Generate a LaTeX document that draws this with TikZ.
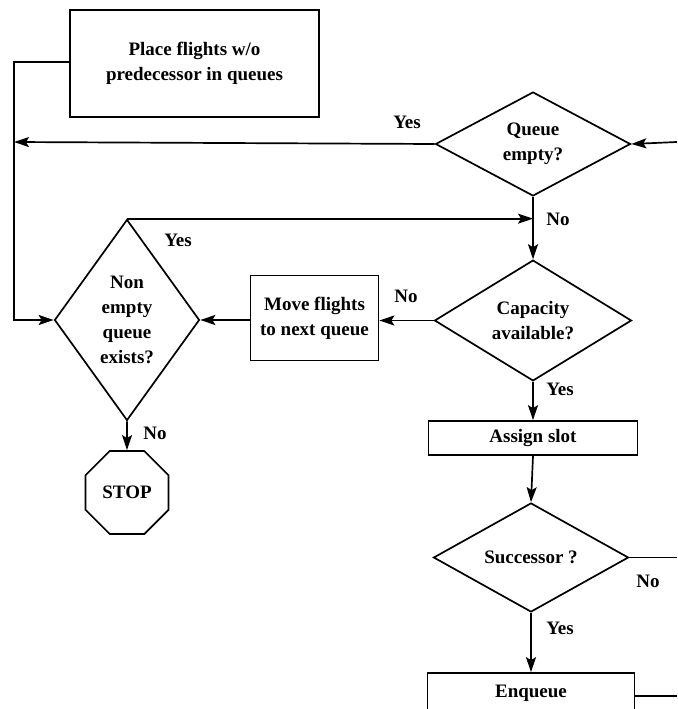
\documentclass[tikz,border=0pt]{standalone}
\usepackage{fontspec}
\setmainfont{Liberation Serif}
\usetikzlibrary{shapes.geometric,arrows.meta}

\begin{document}
\begin{tikzpicture}[x=1pt,y=-1pt,line width=1.7pt,
  font=\fontsize{19}{25}\selectfont\bfseries,
  flowbox/.style={draw,rectangle,align=center,inner sep=0pt},
  decision/.style={draw,diamond,align=center,inner sep=0pt},
  stopsign/.style={draw,regular polygon,regular polygon sides=8,inner sep=0pt,minimum size=90pt},
  flow/.style={-{Stealth[length=15pt,width=10pt,inset=3pt]}},
  lbl/.style={inner sep=0pt}]
\useasboundingbox[fill=white] (0,0) rectangle (677,709);
% Drawing boxes
\node[flowbox,minimum width=249pt,minimum height=107pt] (place) at (194.5,63.5) {Place flights w/o\\predecessor in queues};
\node[flowbox,minimum width=128pt,minimum height=85pt] (move) at (314.5,318) {Move flights\\to next queue};
\node[flowbox,minimum width=209pt,minimum height=34pt] (assign) at (533,438) {Assign slot};
\node[flowbox,minimum width=207pt,minimum height=40pt] (enq) at (531,693) {Enqueue};
% Drawing decisions
\node[decision,minimum width=195pt,minimum height=104pt] (qempty) at (533,144) {Queue\\empty?};
\node[decision,minimum width=145pt,minimum height=201pt] (nonempty) at (127,320) {Non\\empty\\queue\\exists?};
\node[decision,minimum width=197pt,minimum height=111pt] (cap) at (533,320.5) {Capacity\\available?};
\node[decision,minimum width=195pt,minimum height=109pt] (succ) at (531,557.5) {Successor ?};
\node[stopsign] (stop) at (127,492.5) {STOP};
% Free ends
\coordinate (leftbus) at (14,142);
\coordinate (inqe) at (677,142);
\coordinate (outsucc) at (677,557.5);
\coordinate (outenq) at (677,696);
% Drawing connectors
\draw (place.west |- 0,62) -| (leftbus);
\draw[flow] (leftbus) |- (nonempty.west);
\draw[flow] (qempty.west) -- (leftbus);
\draw[flow] (inqe) -- (qempty.east);
\draw[flow] (qempty.south) -- (cap.north);
\draw[flow] (nonempty.north) -- (nonempty.north -| qempty.south);
\draw[flow] (cap.west) -- (cap.west -| move.east);
\draw[flow] (move.west |- nonempty.east) -- (nonempty.east);
\draw[flow] (nonempty.south) -- (stop.north);
\draw[flow] (cap.south) -- (assign.north);
\draw[flow] (assign.south) -- (succ.north);
\draw[flow] (succ.south) -- (enq.north);
\draw (succ.east) -- (outsucc);
\draw (enq.east |- outenq) -- (outenq);
% Drawing labels
\node[lbl] (yes1) at (407,122) {Yes};
\node[lbl] (no1) at (558,219) {No};
\node[lbl] (yes2) at (178,240) {Yes};
\node[lbl] (no2) at (406,296) {No};
\node[lbl] (yes3) at (560,389) {Yes};
\node[lbl] (no3) at (155,433) {No};
\node[lbl] (no4) at (648,581) {No};
\node[lbl] (yes4) at (560,628) {Yes};
\end{tikzpicture}
\end{document}
